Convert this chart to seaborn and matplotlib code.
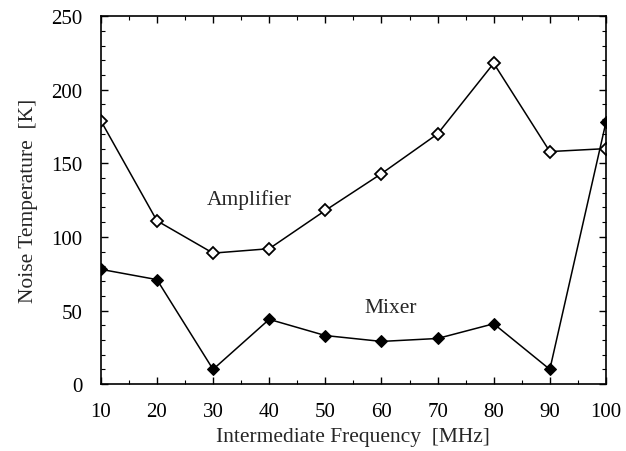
import matplotlib
matplotlib.use("Agg")
import matplotlib.pyplot as plt
import seaborn as sns
import pandas as pd
from matplotlib.ticker import MultipleLocator

freq = [10, 20, 30, 40, 50, 60, 70, 80, 90, 100]
amplifier = [179, 111, 89, 92, 118, 143, 170, 218, 158, 160]
mixer = [78, 71, 10, 44, 33, 29, 31, 41, 10, 178]

sns.set_theme(style="ticks")
plt.rcParams['font.family'] = ['Liberation Serif', 'DejaVu Serif']

df = pd.DataFrame({"freq": freq, "Amplifier": amplifier, "Mixer": mixer})

fig = plt.figure(figsize=(6.26, 4.52), dpi=100)
ax = fig.add_axes([0.161, 0.148, 0.807, 0.814])

sns.lineplot(data=df, x="freq", y="Amplifier", ax=ax, color="black", linewidth=1.1,
             marker="D", markersize=6, markerfacecolor="white", markeredgecolor="black",
             markeredgewidth=1.3)
sns.lineplot(data=df, x="freq", y="Mixer", ax=ax, color="black", linewidth=1.1,
             marker="D", markersize=6, markerfacecolor="black", markeredgecolor="black")

ax.set_xlim(10, 100)
ax.set_ylim(0, 250)
ax.xaxis.set_major_locator(MultipleLocator(10))
ax.xaxis.set_minor_locator(MultipleLocator(5))
ax.yaxis.set_major_locator(MultipleLocator(50))
ax.yaxis.set_minor_locator(MultipleLocator(10))
ax.tick_params(which="both", direction="in", top=True, right=True, labelsize=15, colors="black")
ax.tick_params(which="major", length=5, width=1)
ax.tick_params(which="minor", length=3, width=0.8)
ax.tick_params(axis="x", pad=13)
ax.tick_params(axis="y", pad=13)
for s in ax.spines.values():
    s.set_linewidth(1.2)
    s.set_color("black")

ax.set_xlabel("Intermediate Frequency  [MHz]", fontsize=15.5, labelpad=4)
ax.set_ylabel("Noise Temperature  [K]", fontsize=15.5, labelpad=10)

ax.text(36.5, 126, "Amplifier", fontsize=15.5, ha="center", va="center")
ax.text(61.6, 52, "Mixer", fontsize=15.5, ha="center", va="center")

fig.savefig("out.png", dpi=100)
